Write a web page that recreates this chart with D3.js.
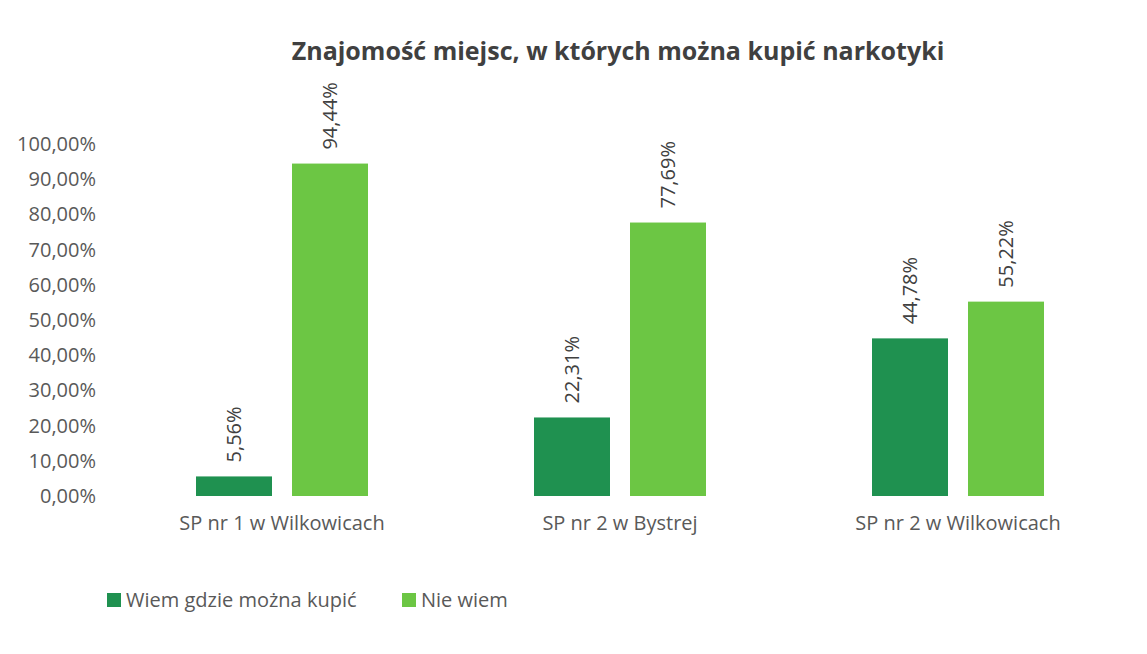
<!DOCTYPE html>
<html>
<head>
<meta charset="utf-8">
<script src="https://cdn.jsdelivr.net/npm/d3@7"></script>
<style>
  body { margin: 0; background: #fff; }
  svg text { font-family: "Open Sans", "Noto Sans", sans-serif; }
</style>
</head>
<body>
<div id="chart"></div>
<script>
const categories = ["SP nr 1 w Wilkowicach", "SP nr 2 w Bystrej", "SP nr 2 w Wilkowicach"],
    seriesNames = ["Wiem gdzie można kupić", "Nie wiem"],
    wiem = [5.56, 22.31, 44.78],
    nieWiem = [94.44, 77.69, 55.22],
    yTicks = [0, 10, 20, 30, 40, 50, 60, 70, 80, 90, 100];

const colors = ["#1f9150", "#6cc644"];
const width = 1147, height = 654;
const fmt = (v) => v.toFixed(2).replace(".", ",") + "%";

const svg = d3.select("#chart").append("svg")
    .attr("width", width)
    .attr("height", height);

const x = d3.scaleBand()
    .domain(categories)
    .range([113, 1127]);

const xInner = d3.scaleBand()
    .domain(seriesNames)
    .range([x.bandwidth() / 2 - 86, x.bandwidth() / 2 + 86])
    .paddingInner(20 / 172 * 2 / (1 + 20 / 172));

const y = d3.scaleLinear()
    .domain([0, 100])
    .range([496, 144]);

// title
svg.append("text")
    .attr("x", 618)
    .attr("y", 60)
    .attr("text-anchor", "middle")
    .attr("font-size", 25)
    .attr("font-weight", "bold")
    .attr("fill", "#404040")
    .text("Znajomość miejsc, w których można kupić narkotyki");

// y axis
const yAxis = svg.append("g")
    .attr("transform", "translate(96,0)")
    .call(d3.axisLeft(y).tickValues(yTicks).tickSize(0).tickPadding(0).tickFormat((d) => fmt(d)));
yAxis.select(".domain").remove();
yAxis.selectAll("text")
    .attr("font-size", 20)
    .attr("fill", "#595959")
    .attr("font-family", "'Open Sans', 'Noto Sans', sans-serif");

// x axis labels
const xAxis = svg.append("g")
    .attr("transform", "translate(0,516)")
    .call(d3.axisBottom(x).tickSize(0).tickPadding(0));
xAxis.select(".domain").remove();
xAxis.selectAll("text")
    .attr("font-size", 20)
    .attr("fill", "#595959")
    .attr("font-family", "'Open Sans', 'Noto Sans', sans-serif");

const rows = categories.map((c, i) => ({
  cat: c,
  values: [
    {series: seriesNames[0], value: wiem[i], color: colors[0]},
    {series: seriesNames[1], value: nieWiem[i], color: colors[1]}
  ]
}));

const group = svg.selectAll(".group")
    .data(rows)
    .enter().append("g")
    .attr("class", "group")
    .attr("transform", (d) => "translate(" + x(d.cat) + ",0)");

group.selectAll("rect")
    .data((d) => d.values)
    .enter().append("rect")
    .attr("x", (d) => xInner(d.series))
    .attr("width", xInner.bandwidth())
    .attr("y", (d) => y(d.value))
    .attr("height", (d) => y(0) - y(d.value))
    .attr("fill", (d) => d.color);

group.selectAll(".label")
    .data((d) => d.values)
    .enter().append("text")
    .attr("class", "label")
    .attr("transform", (d) => "translate(" + (xInner(d.series) + xInner.bandwidth() / 2) + "," + (y(d.value) - 14) + ") rotate(-90)")
    .attr("dy", "0.35em")
    .attr("font-size", 20)
    .attr("fill", "#404040")
    .text((d) => fmt(d.value));

// legend
const legend = svg.append("g")
    .attr("transform", "translate(107,600)");
const legendX = [0, 295];
seriesNames.forEach((s, i) => {
  legend.append("rect")
      .attr("x", legendX[i])
      .attr("y", -7)
      .attr("width", 14)
      .attr("height", 14)
      .attr("fill", colors[i]);
  legend.append("text")
      .attr("x", legendX[i] + 19)
      .attr("y", 0)
      .attr("dy", "0.35em")
      .attr("font-size", 20)
      .attr("fill", "#595959")
      .text(s);
});
</script>
</body>
</html>
